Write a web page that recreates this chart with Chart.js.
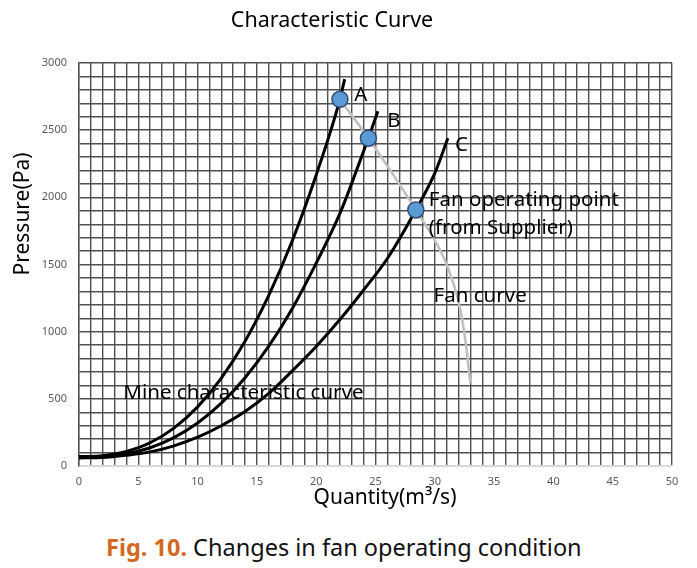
<!DOCTYPE html>
<html lang="en">
<head>
    <meta charset="UTF-8">
    <title>Characteristic Curve</title>
    <script src="https://cdn.jsdelivr.net/npm/chart.js"></script>
    <style>
        body { margin: 0; background: #fff; font-family: "Noto Sans", sans-serif; }
        .wrap { position: relative; width: 697px; height: 568px; }
        #grafico { position: absolute; left: 0; top: 0; }
        .legenda {
            position: absolute; left: 0; top: 531px; width: 697px;
            text-align: left; padding-left: 106px; box-sizing: border-box;
            font-size: 23.5px; color: #111; white-space: nowrap;
        }
        .legenda b { color: #d2691e; }
    </style>
</head>
<body>
<div class="wrap">
    <canvas id="grafico" width="697" height="520"></canvas>
    <div class="legenda"><b>Fig. 10.</b> Changes in fan operating condition</div>
</div>

<script>
    // curvas da mina (A, B, C) - vazao x pressao
    const mineA_Q = [0, 2, 4, 6, 8, 10, 12, 14, 16, 18, 20, 22, 22.4];
    const mineA_P = [70, 77, 108, 173, 282, 440, 655, 929, 1270, 1681, 2167, 2730, 2880];

    const mineB_Q = [0, 2, 4, 6, 8, 10, 12, 14, 16, 18, 20, 22, 24, 24.4, 25.2];
    const mineB_P = [65, 70, 91, 136, 211, 320, 468, 657, 892, 1175, 1510, 1880, 2344, 2440, 2640];

    const mineC_Q = [0, 2, 4, 6, 8, 10, 12, 14, 16, 18, 20, 22, 24, 26, 28.4, 30, 31.1];
    const mineC_P = [60, 63, 80, 105, 150, 215, 300, 405, 540, 710, 890, 1090, 1310, 1545, 1906, 2180, 2440];

    // curva do ventilador
    const fan_Q = [22, 24.4, 26.4, 28.4, 30, 31, 32.1, 32.6, 33];
    const fan_P = [2730, 2440, 2180, 1906, 1680, 1500, 1186, 920, 616];

    // pontos de operacao
    const op_Q = [22.0, 24.4, 28.4];
    const op_P = [2730, 2440, 1906];

    // rotulos dos eixos
    const xLabels = [0, 5, 10, 15, 20, 25, 30, 35, 40, 45, 50];
    const yLabels = [0, 500, 1000, 1500, 2000, 2500, 3000];

    function pontos(qs, ps) {
        return qs.map((q, i) => ({ x: q, y: ps[i] }));
    }

    // textos e titulos desenhados por cima
    const textos = {
        id: 'textos',
        afterDatasetsDraw(chart) {
            const c = chart.ctx;
            const sx = chart.scales.x, sy = chart.scales.y;
            c.save();
            c.fillStyle = '#000';
            c.textBaseline = 'middle';
            c.textAlign = 'left';
            c.font = '20.5px "Noto Sans"';
            const notas = [
                ['A', 23.2, 2762],
                ['B', 26.0, 2565],
                ['C', 31.7, 2390],
                ['Fan operating point', 29.5, 1981],
                ['(from Supplier)', 29.5, 1770],
                ['Fan curve', 29.9, 1261],
                ['Mine characteristic curve', 3.74, 541]
            ];
            notas.forEach(n => c.fillText(n[0], sx.getPixelForValue(n[1]), sy.getPixelForValue(n[2])));

            // titulo
            c.textAlign = 'center';
            c.font = '21.5px "Noto Sans"';
            c.fillText('Characteristic Curve', 332, 21);

            // titulos dos eixos
            c.font = '21px "Noto Sans"';
            c.fillText('Quantity(m³/s)', 385, 498);
            c.translate(23, 214);
            c.rotate(-Math.PI / 2);
            c.fillText('Pressure(Pa)', 0, 0);
            c.restore();
        }
    };

    const linha = (label, qs, ps, cor, larg) => ({
        label: label,
        data: pontos(qs, ps),
        showLine: true,
        borderColor: cor,
        borderWidth: larg,
        pointRadius: 0,
        cubicInterpolationMode: 'monotone'
    });

    const dados = {
        datasets: [
            {
                label: 'Operating points',
                data: pontos(op_Q, op_P),
                showLine: false,
                pointRadius: 8,
                pointBackgroundColor: '#5b9bd5',
                pointBorderColor: '#2f4f75',
                pointBorderWidth: 1.5
            },
            linha('Mine A', mineA_Q, mineA_P, '#000', 3),
            linha('Mine B', mineB_Q, mineB_P, '#000', 3),
            linha('Mine C', mineC_Q, mineC_P, '#000', 3),
            linha('Fan curve', fan_Q, fan_P, '#c0c0c0', 2.6)
        ]
    };

    const config = {
        type: 'scatter',
        data: dados,
        plugins: [textos],
        options: {
            responsive: false,
            animation: false,
            devicePixelRatio: 1,
            layout: { padding: { left: 0, top: 63, right: 25, bottom: 0 } },
            plugins: {
                legend: { display: false },
                title: { display: false },
                tooltip: { enabled: false }
            },
            scales: {
                x: {
                    type: 'linear', min: 0, max: 50,
                    afterFit: s => { s.height = 54; },
                    afterBuildTicks: s => { s.ticks = Array.from({ length: 51 }, (_, i) => ({ value: i })); },
                    ticks: {
                        autoSkip: false, maxRotation: 0, padding: 9,
                        color: '#595959', font: { size: 11, family: 'Noto Sans' },
                        callback: v => xLabels.includes(v) ? String(v) : ''
                    },
                    grid: { color: '#505050', lineWidth: 1.4, drawTicks: false },
                    border: { color: '#d9d9d9', width: 2 }
                },
                y: {
                    type: 'linear', min: 0, max: 3000,
                    afterFit: s => { s.width = 79; },
                    afterBuildTicks: s => { s.ticks = Array.from({ length: 31 }, (_, i) => ({ value: i * 100 })); },
                    ticks: {
                        autoSkip: false, padding: 12,
                        color: '#595959', font: { size: 11, family: 'Noto Sans' },
                        callback: v => yLabels.includes(v) ? String(v) : ''
                    },
                    grid: {
                        color: c => c.tick && c.tick.value === 0 ? '#d9d9d9' : '#505050',
                        lineWidth: 1.4, drawTicks: false
                    },
                    border: { color: '#505050', width: 1.4 }
                }
            }
        }
    };

    new Chart(document.getElementById('grafico'), config);
</script>
</body>
</html>
